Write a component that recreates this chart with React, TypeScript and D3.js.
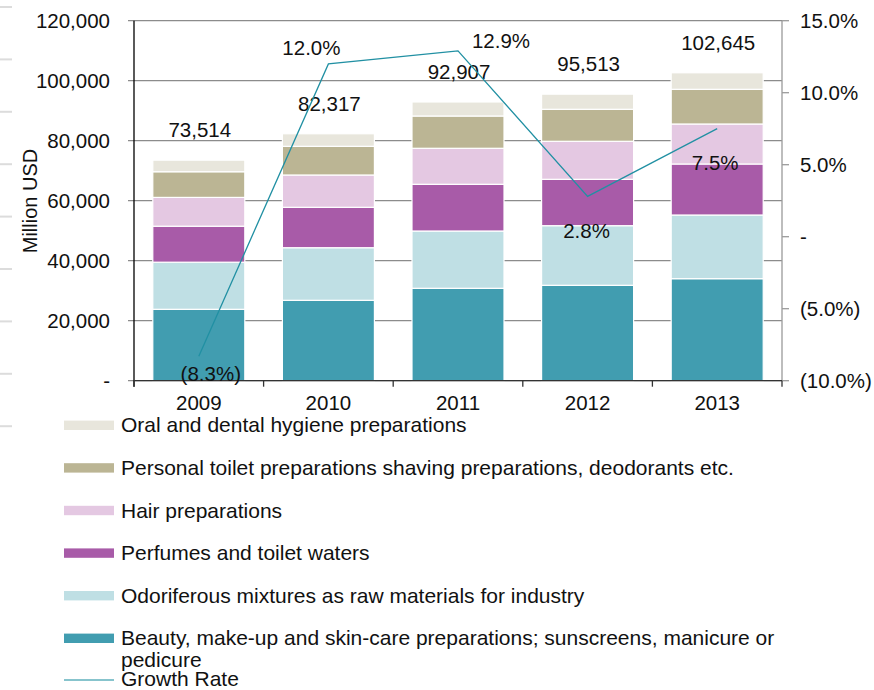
import React from 'react';
import * as d3 from 'd3';

const width = 874;
const height = 690;
const margin = { top: 20.7, right: 92, bottom: 309.3, left: 134 };

const years = ['2009', '2010', '2011', '2012', '2013'];

// segments bottom -> top
const beauty = [23800, 26800, 30800, 31800, 34000];
const odoriferous = [15700, 17530, 19100, 19870, 21230];
const perfumes = [12000, 13470, 15570, 15460, 17000];
const hair = [9600, 10770, 12000, 12670, 13340];
const personal = [8550, 9560, 10760, 10670, 11560];
const totals = [73514, 82317, 92907, 95513, 102645];
const growth = [-0.083, 0.12, 0.129, 0.028, 0.075];

const seriesNames = [
  'Beauty, make-up and skin-care preparations; sunscreens, manicure or pedicure',
  'Odoriferous mixtures as raw materials for industry',
  'Perfumes and toilet waters',
  'Hair preparations',
  'Personal toilet preparations shaving preparations, deodorants etc.',
  'Oral and dental hygiene preparations',
];
const colors = ['#419db0', '#bfdfe4', '#a85ba8', '#e4c8e2', '#bbb594', '#e8e6dc'];
const lineColor = '#2190a3';

const leftTicks = [0, 20000, 40000, 60000, 80000, 100000, 120000];
const rightTicks = [-0.1, -0.05, 0, 0.05, 0.1, 0.15];

// label nudges for the growth labels (px)
const growthLabelOffsets = [[12, 18], [-17, -16], [43, -10], [-1, 34], [-2, 34]];

const font = '"Liberation Sans", Arial, sans-serif';

const fmtLeft = (v: number) => (v === 0 ? '-' : d3.format(',')(v));
const fmtRight = (v: number) => {
  if (Math.abs(v) < 1e-9) return '-';
  const s = d3.format('.1f')(Math.abs(v) * 100) + '%';
  return v < 0 ? `(${s})` : s;
};

export default function App() {
  const x0 = margin.left;
  const xRight = width - margin.right;
  const yBottom = height - margin.bottom;

  const x = d3.scaleBand().domain(years).range([x0, xRight]).paddingInner(0.29).paddingOuter(0.145);
  const y = d3.scaleLinear().domain([0, 120000]).range([yBottom, margin.top]);
  const yR = d3.scaleLinear().domain([-0.1, 0.15]).range([yBottom, margin.top]);

  const rows = years.map((yr, i) => ({
    year: yr,
    s0: beauty[i],
    s1: odoriferous[i],
    s2: perfumes[i],
    s3: hair[i],
    s4: personal[i],
    s5: totals[i] - beauty[i] - odoriferous[i] - perfumes[i] - hair[i] - personal[i],
  }));
  const stacked = d3.stack<any>().keys(['s0', 's1', 's2', 's3', 's4', 's5'])(rows);

  const cx = (yr: string) => (x(yr) as number) + x.bandwidth() / 2;
  const line = d3
    .line<number>()
    .x((_, i) => cx(years[i]))
    .y((d) => yR(d));

  const legendOrder = [5, 4, 3, 2, 1, 0];
  const legendY = (i: number) => 425.3 + i * 42.6;

  return (
    <svg
      width={width}
      height={height}
      style={{ position: 'absolute', left: 0, top: 0, background: '#fff' }}
      fontFamily={font}
    >
      {/* faint slide rules at far left */}
      {d3.range(9).map((i) => (
        <line key={'f' + i} x1={0} x2={12} y1={7 + i * 52.4} y2={7 + i * 52.4} stroke="#dcdcdc" strokeWidth={2} />
      ))}

      {/* gridlines */}
      {leftTicks.map((t) => (
        <line key={'g' + t} x1={128} x2={xRight} y1={y(t)} y2={y(t)} stroke="#8c8c8c" strokeWidth={1.3} />
      ))}

      {/* bars */}
      {stacked.map((layer, si) => (
        <g key={layer.key} fill={colors[si]}>
          {layer.map((d, i) => (
            <rect
              key={i}
              x={x(years[i])}
              y={y(d[1])}
              width={x.bandwidth()}
              height={y(d[0]) - y(d[1])}
              stroke="#fff"
              strokeWidth={1.2}
            />
          ))}
        </g>
      ))}

      {/* left axis */}
      <line x1={x0} x2={x0} y1={margin.top} y2={yBottom + 6} stroke="#000" strokeWidth={1.3} />
      {leftTicks.map((t) => (
        <text key={'lt' + t} x={110} y={y(t)} dy="0.35em" textAnchor="end" fontSize={20.5} fill="#111">
          {fmtLeft(t)}
        </text>
      ))}

      {/* right axis */}
      <line x1={xRight} x2={xRight} y1={margin.top} y2={yBottom} stroke="#9a9a9a" strokeWidth={1.3} />
      {rightTicks.map((t) => (
        <g key={'rt' + t}>
          <line x1={xRight} x2={xRight + 7} y1={yR(t)} y2={yR(t)} stroke="#9a9a9a" strokeWidth={1.3} />
          <text x={800} y={yR(t)} dy="0.35em" fontSize={20.5} fill="#111">
            {fmtRight(t)}
          </text>
        </g>
      ))}

      {/* bottom axis */}
      <line x1={x0} x2={xRight} y1={yBottom} y2={yBottom} stroke="#333" strokeWidth={1.3} />
      {d3.range(years.length + 1).map((i) => {
        const bx = x0 + x.step() * i;
        return <line key={'bt' + i} x1={bx} x2={bx} y1={yBottom} y2={yBottom + 6} stroke="#333" strokeWidth={1.3} />;
      })}
      {years.map((yr) => (
        <text key={'xl' + yr} x={cx(yr)} y={410} textAnchor="middle" fontSize={20.5} fill="#111">
          {yr}
        </text>
      ))}

      {/* totals */}
      {totals.map((t, i) => (
        <text key={'tot' + i} x={cx(years[i]) + 1} y={y(t) - 30} dy="0.35em" textAnchor="middle" fontSize={20.5} fill="#111">
          {d3.format(',')(t)}
        </text>
      ))}

      {/* growth line */}
      <path d={line(growth) as string} fill="none" stroke={lineColor} strokeWidth={1.3} />
      {growth.map((g, i) => (
        <text
          key={'gr' + i}
          x={cx(years[i]) + growthLabelOffsets[i][0]}
          y={yR(g) + growthLabelOffsets[i][1]}
          dy="0.35em"
          textAnchor="middle"
          fontSize={20.5}
          fill="#111"
        >
          {fmtRight(g)}
        </text>
      ))}

      {/* y title */}
      <text transform="translate(37,201) rotate(-90)" textAnchor="middle" fontSize={20} fill="#111">
        Million USD
      </text>

      {/* legend */}
      {legendOrder.map((si, i) => {
        const ly = legendY(i);
        const name = seriesNames[si];
        const lines = si === 0
          ? ['Beauty, make-up and skin-care preparations; sunscreens, manicure or', 'pedicure']
          : [name];
        return (
          <g key={'lg' + si}>
            <rect x={64} y={ly - 4.7} width={50} height={9.4} fill={colors[si]} />
            <text x={121} y={ly + 7} fontSize={21} fill="#111">
              {lines.map((l, li) => (
                <tspan key={li} x={121} dy={li === 0 ? 0 : 22}>
                  {l}
                </tspan>
              ))}
            </text>
          </g>
        );
      })}
      <line x1={64} x2={114} y1={680} y2={680} stroke="#5fb0bd" strokeWidth={1.5} />
      <text x={121} y={686} fontSize={21} fill="#111">
        Growth Rate
      </text>
    </svg>
  );
}
